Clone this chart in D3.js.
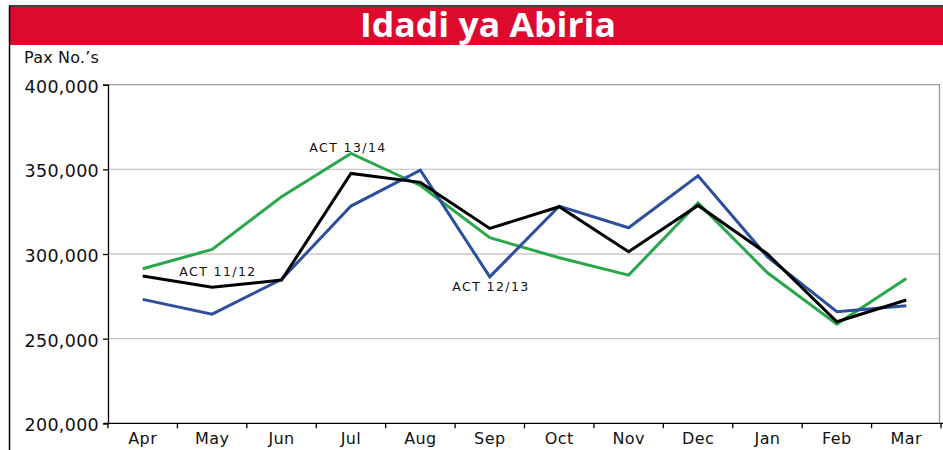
<!DOCTYPE html>
<html>
<head>
<meta charset="utf-8">
<script src="https://cdn.jsdelivr.net/npm/d3@7"></script>
<style>
  body { margin: 0; background: #fff; }
  text { font-family: "DejaVu Sans", sans-serif; }
</style>
</head>
<body>
<div id="vis"></div>
<script>
const months = ['Apr', 'May', 'Jun', 'Jul', 'Aug', 'Sep', 'Oct', 'Nov', 'Dec', 'Jan', 'Feb', 'Mar'];
const act1112 = [287000, 280300, 284600, 347600, 342300, 315100, 327900, 301300, 328700, 300000, 260000, 272800];
const act1213 = [273200, 264500, 285000, 328300, 349500, 286500, 328300, 315500, 346200, 298300, 265900, 269400];
const act1314 = [291300, 302700, 333800, 359400, 340500, 309600, 297800, 287500, 330200, 288900, 258600, 285600];
const yTicks = [200000, 250000, 300000, 350000, 400000];

const svg = d3.select('#vis')
.append('svg')
.attr('width', 943)
.attr('height', 450);

// frame + red banner
svg.append('rect')
.attr('x', 9).attr('y', 7)
.attr('width', 934).attr('height', 38)
.attr('fill', '#dd0a2e');

svg.append('line')
.attr('x1', 9).attr('x2', 943)
.attr('y1', 6).attr('y2', 6)
.attr('stroke', '#000').attr('stroke-width', 1.5);

svg.append('line')
.attr('x1', 9.5).attr('x2', 9.5)
.attr('y1', 6).attr('y2', 450)
.attr('stroke', '#000').attr('stroke-width', 1.5);

svg.append('text')
.attr('x', 488)
.attr('y', 37)
.attr('text-anchor', 'middle')
.attr('fill', '#fff')
.attr('font-weight', 'bold')
.attr('font-size', 34)
.attr('textLength', 256)
.attr('lengthAdjust', 'spacingAndGlyphs')
.style('font-family', '"Open Sans", sans-serif')
.text('Idadi ya Abiria');

svg.append('text')
.attr('x', 24)
.attr('y', 63)
.attr('font-size', 16)
.attr('fill', '#111')
.attr('letter-spacing', 0.2)
.text('Pax No.\u2019s');

// scales
const x = d3.scaleBand()
.domain(months)
.range([108, 941]);

const y = d3.scaleLinear()
.domain([200000, 400000])
.range([423.3, 84.7]);

// grid lines
svg.selectAll('.grid')
.data(yTicks.slice(1))
.enter()
.append('line')
.attr('class', 'grid')
.attr('x1', 108)
.attr('x2', 940)
.attr('y1', d => y(d))
.attr('y2', d => y(d))
.attr('stroke', d => d === 400000 ? '#9a9a9a' : '#c8c8c8')
.attr('stroke-width', 1.3);

// right border of plot
svg.append('line')
.attr('x1', 939.5).attr('x2', 939.5)
.attr('y1', y(400000)).attr('y2', y(200000))
.attr('stroke', '#9a9a9a').attr('stroke-width', 1.3);

// y axis
const yAxis = svg.append('g')
.attr('transform', 'translate(108,0)')
.call(d3.axisLeft(y).tickValues(yTicks).tickSize(5).tickPadding(4).tickFormat(d3.format(',')));
yAxis.select('.domain').attr('stroke', '#000').attr('stroke-width', 1.3);
yAxis.selectAll('.tick line').attr('stroke', '#000').attr('stroke-width', 1.3);
yAxis.selectAll('text')
.attr('font-size', 17.5)
.attr('fill', '#111')
.attr('dy', '0.42em')
.attr('letter-spacing', 0.3)
.style('font-family', '"DejaVu Sans", sans-serif');

// x axis with ticks at band boundaries
const xAxis = svg.append('g')
.attr('transform', 'translate(0,' + y(200000) + ')')
.call(d3.axisBottom(x).tickSize(0).tickPadding(9));
xAxis.select('.domain').remove();
xAxis.selectAll('text')
.attr('font-size', 16)
.attr('fill', '#111')
.attr('letter-spacing', 0.4)
.style('font-family', '"DejaVu Sans", sans-serif');

svg.append('line')
.attr('x1', 104).attr('x2', 943)
.attr('y1', y(200000)).attr('y2', y(200000))
.attr('stroke', '#000').attr('stroke-width', 1.3);

svg.selectAll('.xtick')
.data(d3.range(months.length + 1))
.enter()
.append('line')
.attr('class', 'xtick')
.attr('x1', i => 108 + i * x.step())
.attr('x2', i => 108 + i * x.step())
.attr('y1', y(200000))
.attr('y2', y(200000) + 5)
.attr('stroke', '#000')
.attr('stroke-width', 1.3);

// lines
const line = d3.line()
.x((d, i) => x(months[i]) + x.bandwidth() / 2)
.y(d => y(d));

const series = [
  { values: act1314, color: '#2ba64b' },
  { values: act1213, color: '#2c4f9e' },
  { values: act1112, color: '#000000' }
];

svg.selectAll('.series')
.data(series)
.enter()
.append('path')
.attr('class', 'series')
.attr('d', s => line(s.values))
.attr('fill', 'none')
.attr('stroke', s => s.color)
.attr('stroke-width', 3)
.attr('stroke-linejoin', 'miter');

// series labels
const labels = [
  { text: 'ACT 13/14', x: 348, y: 152 },
  { text: 'ACT 11/12', x: 218, y: 276 },
  { text: 'ACT 12/13', x: 491, y: 291 }
];

svg.selectAll('.lbl')
.data(labels)
.enter()
.append('text')
.attr('class', 'lbl')
.attr('x', d => d.x)
.attr('y', d => d.y)
.attr('text-anchor', 'middle')
.attr('font-size', 12.5)
.attr('fill', '#111')
.attr('letter-spacing', 1.4)
.text(d => d.text);
</script>
</body>
</html>
